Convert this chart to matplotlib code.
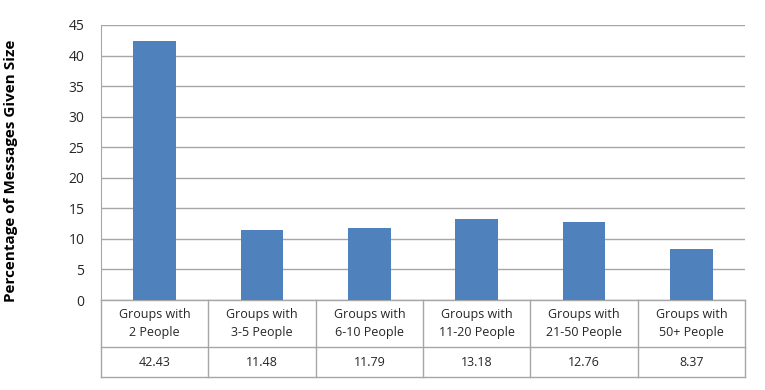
import matplotlib
matplotlib.use('Agg')

import matplotlib.pyplot as plt

# data
categories = ['Groups with\n2 People', 'Groups with\n3-5 People', 'Groups with\n6-10 People',
              'Groups with\n11-20 People', 'Groups with\n21-50 People', 'Groups with\n50+ People']
values = [42.43, 11.48, 11.79, 13.18, 12.76, 8.37]
yticks = [0, 5, 10, 15, 20, 25, 30, 35, 40, 45]

plt.rcParams['font.family'] = ['Open Sans', 'DejaVu Sans']

fig = plt.figure(figsize=(7.65, 3.9), dpi=100)
ax = fig.add_axes([101 / 765, 90 / 390, 644 / 765, 275 / 390])

x = range(len(categories))
ax.bar(x, values, width=0.4, color='#4F81BD', zorder=3)

ax.set_xlim(-0.5, len(categories) - 0.5)
ax.set_ylim(0, 45)
ax.set_yticks(yticks)
ax.tick_params(axis='y', length=0, labelsize=10, labelcolor='#262626', pad=12)
ax.set_xticks([])
ax.grid(axis='y', color='#A6A6A6', linewidth=1, zorder=0)
for side in ['top', 'right', 'bottom']:
    ax.spines[side].set_visible(False)
ax.spines['left'].set_color('#A6A6A6')

ax.set_ylabel('Percentage of Messages Given Size', fontsize=11, fontweight='bold',
              color='#000000')
ax.yaxis.set_label_coords(-0.129, 0.47)

# data table underneath the plot
trans = ax.get_xaxis_transform()
row1 = -47 / 275
row2 = -77 / 275
line_kw = dict(color='#A6A6A6', linewidth=1, transform=trans, clip_on=False)
for yy in [0, row1, row2]:
    ax.plot([-0.5, len(categories) - 0.5], [yy, yy], **line_kw)
for i in range(len(categories) + 1):
    ax.plot([i - 0.5, i - 0.5], [0, row2], **line_kw)
for i, (cat, val) in enumerate(zip(categories, values)):
    ax.text(i, row1 / 2, cat, transform=trans, ha='center', va='center',
            fontsize=9, color='#262626', linespacing=1.45)
    ax.text(i, (row1 + row2) / 2, f'{val:.2f}', transform=trans, ha='center', va='center',
            fontsize=9, color='#262626')

fig.savefig('out.png', dpi=100)
plt.close(fig)
